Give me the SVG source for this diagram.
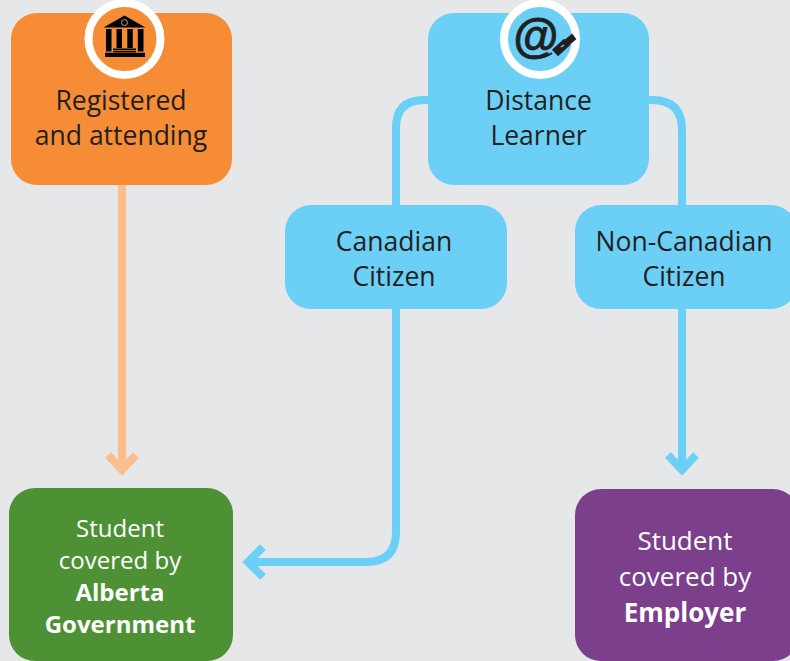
<svg xmlns="http://www.w3.org/2000/svg" width="790" height="661" viewBox="0 0 790 661">
<style>
text{font-family:"Open Sans","Noto Sans","Liberation Sans",sans-serif;text-anchor:middle}
.d{font-size:26.500px;fill:#231f20}
.w{font-size:24px;fill:#fff}
.l{font-size:26px;fill:#fff}
.b{font-weight:700}
.c{fill:none;stroke-width:8}
.bl{stroke:#6bcff6}
.or{stroke:#fbbe8c}
.ring{stroke:#fff;stroke-width:8}
</style>
<rect width="790" height="661" fill="#e6e7e8"/>
<g id="connectors">
<path class="c or" d="M122 185V470"/>
<path class="c or" d="M108 455L122 470L136 455"/>
<path class="c bl" d="M428 100H424Q396 100 396 128V532Q396 562 366 562H248"/>
<path class="c bl" d="M263 547L248 562L263 577"/>
<path class="c bl" d="M649 100H652Q682 100 682 130V470"/>
<path class="c bl" d="M668 455L682 470L696 455"/>
</g>
<g id="registered">
<rect x="11" y="13" width="221" height="172" rx="26" fill="#f68c35"/>
<circle cx="124.500" cy="39" r="36" fill="#f68c35" class="ring"/>
<path d="M103.500 27.500L124.500 15.500L145.500 27.500Z" fill="#000"/>
<circle cx="124.500" cy="22.500" r="3" fill="none" stroke="#c8a67a" stroke-width="1"/>
<path d="M106 29h5.500v22.500h-5.500zM116.500 29h5.500v19h-5.500zM127.300 29h5.500v19h-5.500zM137.800 29h5.700v22.500h-5.700z" fill="#000"/>
<path d="M113 48.500h23v1.500h-23zM113 50.800h23v1.500h-23zM105 52.700h40v4.300h-40z" fill="#000"/>
<text class="d" x="121" y="110">Registered</text>
<text class="d" x="121" y="145">and attending</text>
</g>
<g id="distance">
<rect x="428" y="13" width="221" height="172" rx="26" fill="#6bcff6"/>
<circle cx="540" cy="39" r="36" fill="#6bcff6" class="ring"/>
<text x="536" y="52" style="font-family:'Liberation Sans',sans-serif;font-size:46px;font-weight:700;fill:#231f20;stroke:#231f20;stroke-width:.8">@</text>
<path d="M555 53L567 42" fill="none" stroke="#231f20" stroke-width="9"/>
<path d="M552 53Q545 58 535 58" fill="none" stroke="#231f20" stroke-width="2"/>
<path d="M566 40L572 35L575 39L569 44Z" fill="#231f20" stroke="#231f20" stroke-width="2"/>
<path d="M561 47L564 45" fill="none" stroke="#6bcff6" stroke-width="1.500"/>
<text class="d" x="538.500" y="110">Distance</text>
<text class="d" x="538.500" y="145">Learner</text>
</g>
<g id="canadian">
<rect x="285" y="205" width="222" height="104" rx="26" fill="#6bcff6"/>
<text class="d" x="394" y="251">Canadian</text>
<text class="d" x="394" y="286">Citizen</text>
</g>
<g id="noncanadian">
<rect x="575" y="205" width="222" height="104" rx="26" fill="#6bcff6"/>
<text class="d" x="684" y="251">Non-Canadian</text>
<text class="d" x="684" y="286">Citizen</text>
</g>
<g id="alberta">
<rect x="9" y="488" width="224" height="173" rx="26" fill="#4e9135"/>
<text class="w" x="120" y="537">Student</text>
<text class="w" x="120" y="569">covered by</text>
<text class="w b" x="120" y="601">Alberta</text>
<text class="w b" x="120" y="633">Government</text>
</g>
<g id="employer">
<rect x="575" y="489" width="224" height="172" rx="26" fill="#7b3f8c"/>
<text class="l" x="685" y="550">Student</text>
<text class="l" x="685" y="586">covered by</text>
<text class="l b" x="685" y="622">Employer</text>
</g>
</svg>
